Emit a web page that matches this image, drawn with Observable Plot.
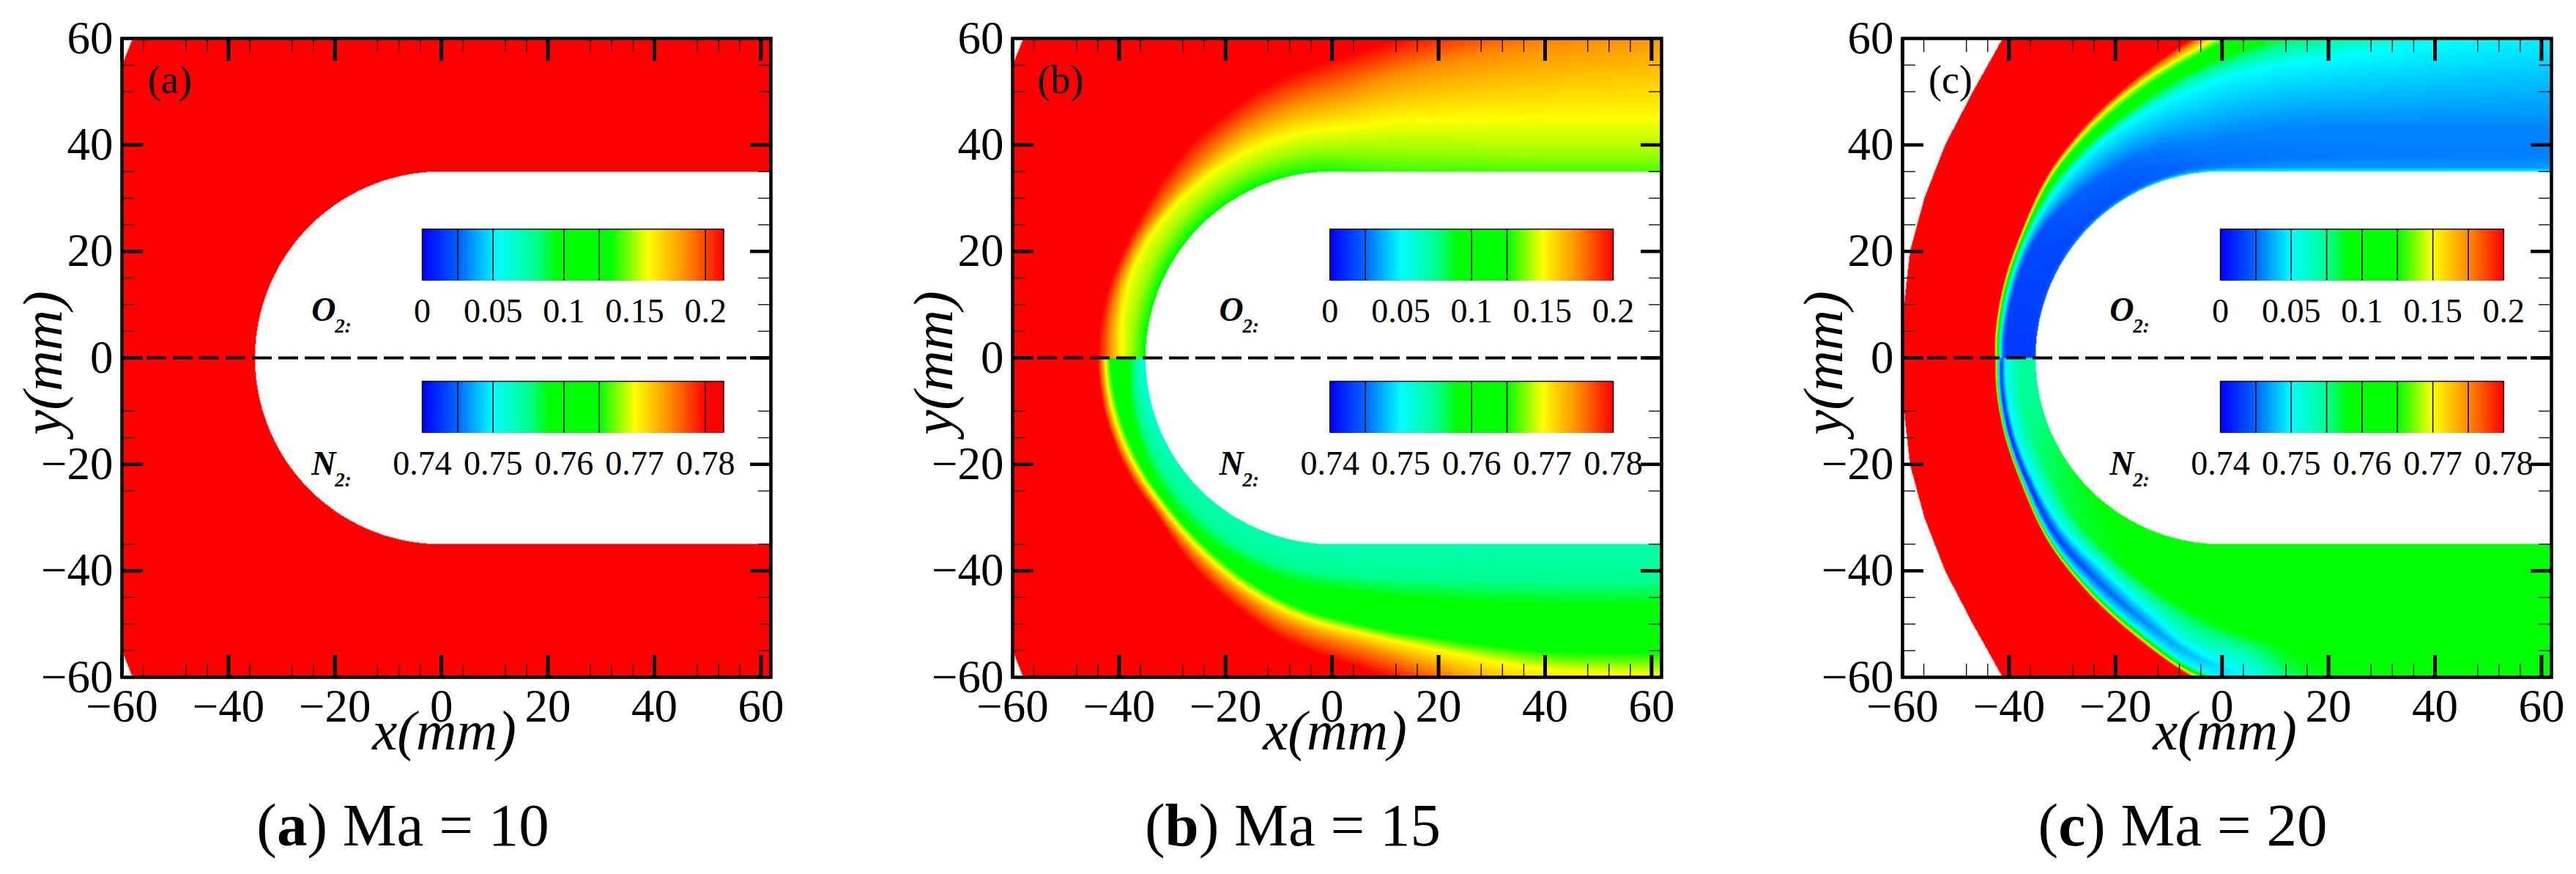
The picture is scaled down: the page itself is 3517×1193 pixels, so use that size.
<!DOCTYPE html>
<html><head><meta charset="utf-8">
<script src="https://cdn.jsdelivr.net/npm/d3@7"></script>
<script src="https://cdn.jsdelivr.net/npm/@observablehq/plot@0.6"></script>
<style>
html,body{margin:0;background:#fff;width:3517px;height:1193px;overflow:hidden}
.panel{position:absolute;top:0}
.cap{position:absolute;top:1085px;width:800px;text-align:center;font:83px/1 "Liberation Serif",serif;color:#000;white-space:pre}
</style></head><body>
<script>
// Axis ticks
const xMajor=[-60,-40,-20,0,20,40,60];
const yMajor=[-60,-40,-20,0,20,40,60];
const xMinor=[-56,-48,-44,-36,-28,-24,-12,-8,-4,4,12,16,28,32,36,48,52,56];
const yMinor=[-55,-50,-45,-35,-25,-15,-10,5,10,15,25,30,35,50,55];
// Colour map: position on the colour bar -> colour
const barStops=[0,.125,.25,.375,.45,.625,.75,.875,1];
const barColors=["#0000ff","#0066ff","#00ffff","#00ff90","#00ff00","#00ff00","#ffff00","#ff8c00","#ff0000"];
// Colour-bar tick labels
const o2Ticks=[0,.05,.1,.15,.2], o2Labels=["0","0.05","0.1","0.15","0.2"];
const n2Ticks=[.74,.75,.76,.77,.78], n2Labels=["0.74","0.75","0.76","0.77","0.78"];
const barLines_a=[.025,.05,.1,.125,.2], barLines_b=[.025,.1,.125], barLines_c=[.025,.05,.075,.1,.125,.15,.175];
// Outer edge of the computed domain (|y| mm -> x mm)
const edgeY_ab=[0,55,60], edgeX_ab=[-60,-60,-58];
const edgeY_c=[0,10,20,30,40,50,60], edgeX_c=[-60,-59.7,-58.6,-55.9,-52,-46.8,-41.2];
// Field tables: station along the body (deg round the nose, then 90 + x mm),
// per station the wall distance (mm) of each level and the mass fraction there.
const st_a=[0,152], o2_a_d=[[0],[0]], o2_a_v=[[.233],[.233]], n2_a_d=[[0],[0]], n2_a_v=[[.79],[.79]];

const st_b=[0,20,31,42,56,68.5,78,90,103,130,152];
const o2_b_d=[[0,2.5,4.4,6.7,9],[0,2.8,5.8,7.3,9],[0,3,6.1,7.5,9.2],[0,3.2,6.2,7.7,10.5],[0,3.4,6.4,9,13],[0,3.6,7,11,15.5],[-.5,3.8,7.4,12.5,18],[-1,4,8,14.5,21],[-3,3.8,9.5,18.5,25],[-3,3,10,24,33],[-3,3,10,27,36]];
const o2_b_lv=[.124,.14,.15,.175,.2];
const n2_b_d=[[-.5,1.4,2,3,6.6,7.6,8.2,9],[-2,1.5,2.8,4.2,6.2,7.3,8.1,8.9],[-3,1.2,3.2,4.9,6.2,7.2,8,9],[-5,.5,3.6,5.6,6.4,7.4,8.2,9.2],[-8,0,4.2,6.3,7.6,8.8,10,12],[-10,0,4.7,7,9.5,10.9,12.4,15],[-10,0,5,7.6,11.3,12.8,14.8,18],[-10,0,5.5,8.5,13.8,15.4,17.7,21.5],[-10,0,6.5,10,16.6,18.4,21.5,26],[-10,0,7,11.5,20,23.5,30,37],[-10,0,7,11.5,20.4,24.6,34,40]];
const n2_b_lv=[.75,.7536,.755,.758,.765,.77,.775,.78];

const st_c=[0,18,33,48,60,73,85,94,104,130,152];
const o2_c_d=[[0,.6,1,5.8,6.6,7,7.4,7.7],[0,.6,1,6,7,7.6,8,8.3],[0,.6,1.2,6.5,8,8.8,9.3,9.7],[0,.6,1.4,6,9.5,11.2,12.3,12.9],[0,.6,1.5,6,11.2,13,15,15.8],[0,.6,1.5,6,13.3,16,18.7,20],[0,.6,1.6,6,16,20.5,23.1,25.5],[0,.7,2,7,18.6,24,28,31],[0,.7,2.5,8,20.4,28,32,36],[0,.7,3,8,24,33,38,43],[0,.7,3,8,27,36,41,46]];
const o2_c_v=[[.02,.014,.014,.014,.05,.1,.15,.2],[.024,.016,.016,.016,.05,.1,.15,.2],[.032,.017,.017,.019,.05,.1,.15,.2],[.04,.02,.02,.024,.05,.1,.15,.2],[.044,.022,.021,.026,.05,.1,.15,.2],[.05,.026,.024,.028,.05,.1,.15,.2],[.05,.03,.026,.03,.05,.1,.15,.2],[.05,.032,.027,.03,.05,.1,.15,.2],[.05,.034,.028,.03,.05,.1,.15,.2],[.05,.034,.029,.03,.05,.1,.15,.2],[.05,.034,.029,.03,.05,.1,.15,.2]];
const n2_c_d=[[0,3,5.6,6.4,6.9,7.1,7.3,7.6],[0,3.5,6.3,7.2,7.7,7.9,8.1,8.3],[0,4,7.2,8.3,9,9.2,9.45,9.7],[0,6,9,10.8,12,12.3,12.6,12.9],[0,7.5,10.5,12.8,14.6,15,15.4,15.8],[0,10,14,16.4,18.4,19,19.5,20],[0,13,19,21.4,23.5,24.2,24.8,25.5],[0,16,21,24.5,26.5,27.5,28,31],[0,18,24,29,32,33,35,36],[0,25,30,38,42,44,46,48],[0,25,30,38,42,44,46,48]];
const n2_c_v=[[.7544,.7544,.75,.7432,.75,.76,.77,.78],[.7552,.7552,.75,.7416,.75,.76,.77,.78],[.7568,.756,.75,.742,.75,.76,.77,.78],[.758,.7568,.75,.7432,.75,.76,.77,.78],[.7584,.7576,.75,.7444,.75,.76,.77,.78],[.7592,.758,.7504,.746,.75,.76,.77,.78],[.76,.7584,.752,.748,.75,.76,.77,.78],[.76,.7588,.7528,.75,.75,.76,.77,.78],[.76,.7588,.7568,.752,.752,.76,.77,.78],[.76,.76,.758,.752,.752,.76,.77,.78],[.76,.76,.758,.752,.752,.76,.77,.78]];

const R=35, FONT="Liberation Serif", BAR=53.2, XMAX=61.87;
const repeat=(st,lv)=>st.map(()=>lv);
// smooth each level along the body (curve through the rows read above), one row per degree/mm
function hermite(xs,ys,q){
  const n=xs.length;
  if(n===2) return ys[0]+(ys[1]-ys[0])*(q-xs[0])/(xs[1]-xs[0]);
  const i=Math.max(1,Math.min(n-1,d3.bisectRight(xs,q)));
  const m=k=>{
    const a=Math.max(0,k-1),b=Math.min(n-1,k+1);
    return (ys[b]-ys[a])/(xs[b]-xs[a]);
  };
  const h=xs[i]-xs[i-1],t=(q-xs[i-1])/h,t2=t*t,t3=t2*t;
  return (2*t3-3*t2+1)*ys[i-1]+(t3-2*t2+t)*h*m(i-1)+(-2*t3+3*t2)*ys[i]+(t3-t2)*h*m(i);
}
const table=(st,d,v)=>{
  const L=d[0].length, D=[], V=[];
  for(let s=0;s<=152;s++){
    const rowD=[],rowV=[];
    for(let k=0;k<L;k++){
      rowD.push(hermite(st,d.map(r=>r[k]),s));
      rowV.push(hermite(st,v.map(r=>r[k]),s));
    }
    D.push(rowD);V.push(rowV);
  }
  return {D,V};
};
const panels=[
 {left:0,   tag:"(a)",cap:["a","10"],capC:550, x0:-3.6,o2Len:56.6,n2Len:56.6,lines:barLines_a,
  edgeY:edgeY_ab,edgeX:edgeX_ab,o2:table(st_a,o2_a_d,o2_a_v),n2:table(st_a,n2_a_d,n2_a_v)},
 {left:1216,tag:"(b)",cap:["b","15"],capC:1765,x0:-.4,o2Len:BAR,n2Len:BAR,lines:barLines_b,
  edgeY:edgeY_ab,edgeX:edgeX_ab,o2:table(st_b,o2_b_d,repeat(st_b,o2_b_lv)),n2:table(st_b,n2_b_d,repeat(st_b,n2_b_lv))},
 {left:2431,tag:"(c)",cap:["c","20"],capC:2980,x0:-.3,o2Len:BAR,n2Len:BAR,lines:barLines_c,
  edgeY:edgeY_c,edgeX:edgeX_c,o2:table(st_c,o2_c_d,o2_c_v),n2:table(st_c,n2_c_d,n2_c_v)}
];
const o2t=v=>v/.2, n2t=v=>(v-.74)/.04;
function lookup(xs,ys,q){const i=Math.max(1,Math.min(xs.length-1,d3.bisectRight(xs,q)));const f=(q-xs[i-1])/(xs[i]-xs[i-1]);return ys[i-1]+(ys[i]-ys[i-1])*Math.max(0,Math.min(1,f));}
function fieldAt(T,s,d){
  const i=Math.min(151,Math.floor(s)), f=Math.max(0,Math.min(1,s-i));
  const A=T.D[i],B=T.D[i+1],VA=T.V[i],VB=T.V[i+1];
  let pd=A[0]+(B[0]-A[0])*f, pv=VA[0]+(VB[0]-VA[0])*f;
  if(d<=pd) return pv;
  for(let k=1;k<A.length;k++){
    const nd=A[k]+(B[k]-A[k])*f, nv=VA[k]+(VB[k]-VA[k])*f;
    if(d<=nd) return pv+(nv-pv)*(d-pd)/(nd-pd||1);
    pd=nd;pv=nv;
  }
  return pv;
}
function flow(p){return (x,y)=>{
  const a=Math.abs(y);
  if(x<lookup(p.edgeY,p.edgeX,a)) return NaN;
  let s,d;
  if(x<0){s=Math.atan2(a,-x)*180/Math.PI;d=Math.hypot(x,a)-R;}else{s=90+x;d=a-R;}
  if(d<0) return NaN;
  return y>=0?o2t(fieldAt(p.o2,s,d)):n2t(fieldAt(p.n2,s,d));
};}
const O2Y=[14.5,24.2], N2Y=[-14.1,-4.4];
const axisFont={fontSize:63,fontFamily:FONT,label:null};
const bold={fontFamily:FONT,fontWeight:"bold",fontStyle:"italic",textAnchor:"start",lineAnchor:"bottom",fill:"#000"};
function chart(p){
  const px=v=>p.x0+v/.2*BAR, nx=v=>p.x0+(v-.74)/.04*BAR;
  const linesN=p.lines.map(v=>.74+v/.2*.04);
  const bar=(Y,len,span)=>[
    Plot.raster({x1:p.x0,x2:p.x0+len,y1:Y[0],y2:Y[1],pixelSize:1,fill:(x)=>(x-p.x0)/span}),
    Plot.ruleY([Y[1]],{x1:p.x0,x2:p.x0+len,stroke:"#000",strokeWidth:1.5}),
    Plot.ruleX([p.x0,p.x0+len],{y1:Y[0],y2:Y[1],stroke:"#000",strokeWidth:1.5})
  ];
  return Plot.plot({
    width:1100,height:1060,marginLeft:166,marginRight:48,marginTop:52,marginBottom:136,
    x:{domain:[-60,XMAX],axis:null},y:{domain:[-60,60],axis:null},
    color:{type:"linear",domain:barStops,range:barColors,clamp:true},
    style:{fontFamily:FONT,background:"transparent",color:"#000"},
    marks:[
      Plot.raster({x1:-60,x2:XMAX,y1:-60,y2:60,pixelSize:1,fill:flow(p)}),
      ...bar(O2Y,p.o2Len,p.o2Len),...bar(N2Y,p.n2Len,BAR),
      Plot.ruleX(p.lines,{x:px,y1:O2Y[0],y2:O2Y[1],stroke:"#000",strokeWidth:1.5}),
      Plot.ruleX(linesN,{x:nx,y1:N2Y[0],y2:N2Y[1],stroke:"#000",strokeWidth:1.5}),
      Plot.ruleY([0],{stroke:"#000",strokeWidth:4,strokeDasharray:"27,9",strokeDashoffset:2}),
      Plot.axisX({anchor:"top",ticks:xMajor,tickSize:-30,strokeWidth:5,fill:"none",label:null}),
      Plot.axisX({anchor:"bottom",ticks:xMajor,tickSize:-30,strokeWidth:5,fill:"none",label:null}),
      Plot.axisX({anchor:"top",ticks:xMinor,tickSize:-18,strokeWidth:1.3,fill:"none",label:null}),
      Plot.axisX({anchor:"bottom",ticks:xMinor,tickSize:-18,strokeWidth:1.3,fill:"none",label:null}),
      Plot.axisY({anchor:"left",ticks:yMajor.slice(1,-1),tickSize:-29,strokeWidth:4.6,fill:"none",label:null}),
      Plot.axisY({anchor:"right",ticks:yMajor.slice(1,-1),tickSize:-29,strokeWidth:4.6,fill:"none",label:null}),
      Plot.axisY({anchor:"left",ticks:yMinor,tickSize:-18,strokeWidth:1.3,fill:"none",label:null}),
      Plot.axisY({anchor:"right",ticks:yMinor,tickSize:-18,strokeWidth:1.3,fill:"none",label:null}),
      Plot.frame({stroke:"#000",strokeWidth:4.5}),
      Plot.axisX({anchor:"bottom",ticks:xMajor,tickSize:0,tickPadding:16,...axisFont}),
      Plot.axisY({anchor:"left",ticks:yMajor,tickSize:0,tickPadding:12,...axisFont}),
      Plot.text(["x(mm)"],{frameAnchor:"bottom",dy:98,dx:-3,fontSize:77,fontStyle:"italic",fontFamily:FONT,fill:"#000"}),
      Plot.text(["y(mm)"],{frameAnchor:"left",dx:-107,dy:7,textAnchor:"middle",rotate:-90,fontSize:77,fontStyle:"italic",fontFamily:FONT,fill:"#000"}),
      Plot.text([p.tag],{x:-51,y:49.7,lineAnchor:"bottom",fontSize:54,fontFamily:FONT,fill:"#000"}),
      Plot.text(o2Labels,{x:(d,i)=>px(o2Ticks[i]),y:6.74,lineAnchor:"bottom",fontSize:46,fontFamily:FONT,fill:"#000"}),
      Plot.text(n2Labels,{x:(d,i)=>nx(n2Ticks[i]),y:-21.9,lineAnchor:"bottom",fontSize:46,fontFamily:FONT,fill:"#000"}),
      Plot.text(["O"],{x:p.x0-20.8,y:7,fontSize:46,...bold}),
      Plot.text(["2:"],{x:p.x0-16.4,y:4.8,fontSize:27,...bold}),
      Plot.text(["N"],{x:p.x0-20.8,y:-21.9,fontSize:46,...bold}),
      Plot.text(["2:"],{x:p.x0-16.4,y:-24.1,fontSize:27,...bold})
    ]
  });
}
for(const p of panels){
  const el=chart(p);el.classList.add("panel");el.style.left=p.left+"px";document.body.appendChild(el);
  const c=document.createElement("div");c.className="cap";c.style.left=(p.capC-400)+"px";
  c.innerHTML=`(<b>${p.cap[0]}</b>) Ma = ${p.cap[1]}`;document.body.appendChild(c);
}
</script></body></html>
